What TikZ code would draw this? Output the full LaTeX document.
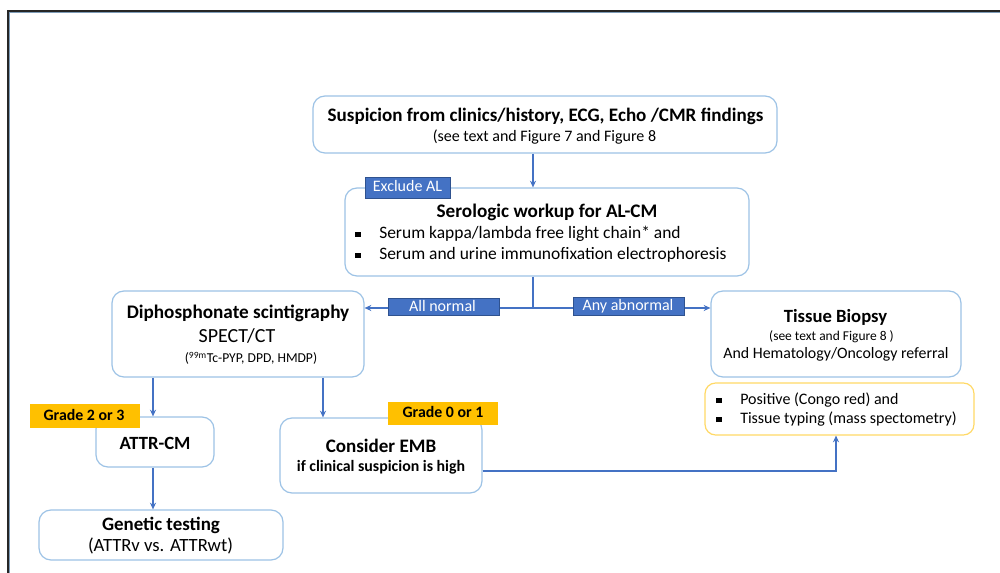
\documentclass[tikz,border=0pt]{standalone}
\usepackage{fontspec}
\setmainfont{Carlito}
\usetikzlibrary{arrows.meta}
\definecolor{boxblue}{HTML}{9DC3E6}
\definecolor{arrblue}{HTML}{4472C4}
\definecolor{labfill}{HTML}{4472C4}
\definecolor{labdraw}{HTML}{2F528F}
\definecolor{gradeor}{HTML}{FFC000}
\definecolor{ybox}{HTML}{FFD966}
\newcommand\sqb{\raisebox{0.12em}{\rule{4pt}{4pt}}}
\newcommand\fsz[1]{\fontsize{#1}{#1}\selectfont}
\tikzset{
  box/.style={draw=boxblue, line width=0.9pt, rounded corners=9pt, fill=white, inner sep=0pt},
  ybx/.style={draw=ybox, line width=0.9pt, rounded corners=8pt, fill=white, inner sep=0pt},
  lab/.style={draw=labdraw, line width=0.5pt, fill=labfill, inner sep=0pt},
  labt/.style={inner sep=0pt, anchor=base, text=white, font=\fsz{12pt}},
  grade/.style={fill=gradeor, inner sep=0pt},
  gradet/.style={inner sep=0pt, anchor=base, font=\fsz{11.9pt}\bfseries},
  txt/.style={inner sep=0pt, anchor=base},
  txl/.style={inner sep=0pt, anchor=base west},
  arr/.style={draw=arrblue, line width=0.9pt, -{Stealth[length=5pt,width=4.5pt]}},
  ln/.style={draw=arrblue, line width=0.9pt},
}
\begin{document}
\begin{tikzpicture}[x=0.75pt,y=-0.75pt]
\useasboundingbox (0,0) rectangle (1000,573);
\fill[white] (0,0) rectangle (1000,573);
% frame
\draw[line width=1.5pt, black!85] (8,573) -- (8,11) -- (1000,11);
\draw[line width=0.4pt, boxblue!80!black] (9.6,573) -- (9.6,12.6) -- (1000,12.6);

% coordinates for connector positions
\coordinate (cx1) at (533,0);
\coordinate (cjy) at (0,308);
\coordinate (cx2) at (153,0);
\coordinate (cx3) at (323,0);
\coordinate (cx4) at (836,0);
\coordinate (cy4) at (0,471);

% boxes
\node[box, minimum width=348pt, minimum height=42.75pt] (top) at (545,124.5) {};
\node[box, minimum width=303pt, minimum height=66pt] (ser) at (547,232) {};
\node[box, minimum width=189pt, minimum height=64.5pt] (dip) at (238,334) {};
\node[box, minimum width=187.5pt, minimum height=64.5pt] (tis) at (836,334) {};
\node[ybx, minimum width=201.75pt, minimum height=39pt] (pos) at (839.5,409) {};
\node[box, minimum width=88.5pt, minimum height=37.5pt] (attr) at (155,442) {};
\node[box, minimum width=183pt, minimum height=37.5pt] (gen) at (161,535) {};
\node[box, minimum width=151.5pt, minimum height=56.25pt] (emb) at (381,455.5) {};

% connectors
\draw[arr] (top.south -| cx1) -- (ser.north -| cx1);
\coordinate (junc) at (cx1 |- cjy);
\draw[ln] (ser.south -| cx1) -- (junc);
\draw[arr] (junc) -- (dip.east |- cjy);
\draw[arr] (junc) -- (tis.west |- cjy);
\draw[arr] (dip.south -| cx2) -- (attr.north -| cx2);
\draw[arr] (dip.south -| cx3) -- (emb.north -| cx3);
\draw[arr] (attr.south -| cx2) -- (gen.north -| cx2);
\draw[arr] (emb.east |- cy4) -- (cx4 |- cy4) -- (pos.south -| cx4);

% labels
\node[lab, minimum width=63.75pt, minimum height=15.75pt] (excl) at (407.5,187.5) {};
\node[lab, minimum width=83.25pt, minimum height=12.75pt] (alln) at (443.5,306.5) {};
\node[lab, minimum width=83.25pt, minimum height=13.5pt] (anya) at (628.5,306) {};
\node[grade, minimum width=82.5pt, minimum height=18pt] (g23) at (85,416) {};
\node[grade, minimum width=82.5pt, minimum height=17.25pt] (g01) at (443,413.5) {};

\node[labt] (exclt) at (407.5,191.7) {Exclude AL};
\node[labt] (allnt) at (442.5,312) {All normal};
\node[labt] (anyat) at (628,310.7) {Any abnormal};
\node[gradet] (g23t) at (84,420.7) {Grade 2 or 3};
\node[gradet] (g01t) at (443,418) {Grade 0 or 1};

% texts
\node[txt, font=\fsz{14.3pt}\bfseries] (t1) at (545.5,121.7) {Suspicion from clinics/history, ECG, Echo /CMR findings};
\node[txt, font=\fsz{12pt}] (t2) at (544.5,141.7) {(see text and Figure 7 and Figure 8};

\node[txt, font=\fsz{14.4pt}\bfseries] (s1) at (547,218) {Serologic workup for AL-CM};
\node[txl, font=\fsz{13.1pt}] (s2) at (355,239) {\sqb\hspace{14pt}Serum kappa/lambda free light chain* and};
\node[txl, font=\fsz{13.1pt}] (s3) at (355,260) {\sqb\hspace{14pt}Serum and urine immunofixation electrophoresis};

\node[txt, font=\fsz{14.4pt}\bfseries] (d1) at (238,319) {Diphosphonate scintigraphy};
\node[txt, font=\fsz{15pt}] (d2) at (237,342.7) {SPECT/CT};
\node[txt, font=\fsz{10.2pt}] (d3) at (251,363) {(\textsuperscript{99m}Tc-PYP, DPD, HMDP)};

\node[txt, font=\fsz{14pt}\bfseries] (b1) at (835.5,322.7) {Tissue Biopsy};
\node[txt, font=\fsz{10.1pt}] (b2) at (831.5,341) {(see text and Figure 8 )};
\node[txt, font=\fsz{11.9pt}] (b3) at (836,359) {And Hematology/Oncology referral};

\node[txl, font=\fsz{12pt}] (p1) at (716,405) {\sqb\hspace{14pt}Positive (Congo red) and};
\node[txl, font=\fsz{12pt}] (p2) at (716,424) {\sqb\hspace{14pt}Tissue typing (mass spectometry)};

\node[txt, font=\fsz{14pt}\bfseries] (a1) at (155,450) {ATTR-CM};
\node[txt, font=\fsz{14.2pt}\bfseries] (gn1) at (161,530) {Genetic testing};
\node[txt, font=\fsz{14pt}] (gn2) at (160.5,551.7) {(ATTRv vs. ATTRwt)};

\node[txt, font=\fsz{14.3pt}\bfseries] (e1) at (381,453) {Consider EMB};
\node[txt, font=\fsz{11.9pt}\bfseries] (e2) at (381,471.7) {if clinical suspicion is high};
\end{tikzpicture}
\end{document}
